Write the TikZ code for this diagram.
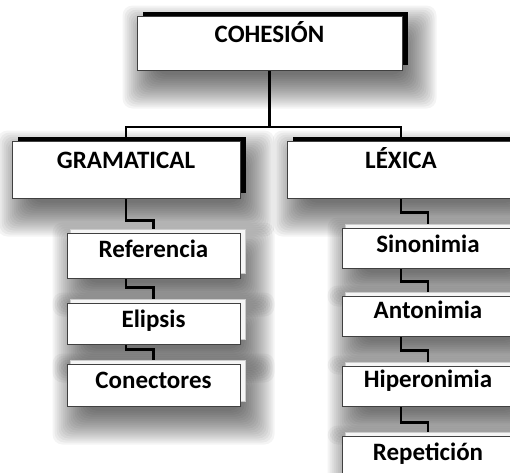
\documentclass[tikz,border=0pt]{standalone}
\usepackage{fontspec}
\setmainfont{Carlito}
\usetikzlibrary{calc}
\tikzset{
  boxbase/.style={draw=black!75, line width=1pt, fill=white, inner sep=0pt, align=center,
    font=\fontsize{25}{27}\selectfont\bfseries, text=black},
  topbox/.style={boxbase},
  leafbox/.style={boxbase, minimum width=173pt},
  shadlayer/.style={fill=black, fill opacity=0.045, rounded corners=10pt},
  blackghost/.style={fill=black},
  lightghost/.style={fill=black!4, draw=black!20, line width=0.6pt},
  conn/.style={draw=black, line width=2.8pt},
}
\newcommand\mysoftshadow[1]{%
  \foreach \e in {-10,-8,...,24}{
    \path[shadlayer] ($(#1.north west)+({10-(\e)},{14-(\e)})$) rectangle ($(#1.south east)+({10+(\e)},{14+(\e)})$);
  }}
\begin{document}
\begin{tikzpicture}[x=1pt,y=-1pt]
\useasboundingbox (0,0) rectangle (510,472);
\clip (0,0) rectangle (510,472);
% boxes (positions only, drawn later)
\path
 node[topbox, minimum width=265pt, text height=26pt, text depth=28pt, draw=none, fill=none, text opacity=0] (coh) at (269.5,43) {COHESIÓN}
 node[topbox, minimum width=228pt, text height=27pt, text depth=30pt, draw=none, fill=none, text opacity=0] (gram) at (126,169.5) {GRAMATICAL}
 node[topbox, minimum width=228pt, text height=27pt, text depth=30pt, draw=none, fill=none, text opacity=0] (lex) at (401,169.5) {LÉXICA}
 node[leafbox, text height=24pt, text depth=21pt, draw=none, fill=none, text opacity=0] (ref) at (153.5,255.5) {Referencia}
 node[leafbox, text height=24pt, text depth=17pt, draw=none, fill=none, text opacity=0] (eli) at (153.5,323.5) {Elipsis}
 node[leafbox, text height=24pt, text depth=18pt, draw=none, fill=none, text opacity=0] (con) at (153.5,385) {Conectores}
 node[leafbox, minimum width=172pt, text height=24pt, text depth=16pt, draw=none, fill=none, text opacity=0] (sin) at (428,248) {Sinonimia}
 node[leafbox, minimum width=172pt, text height=22pt, text depth=18pt, draw=none, fill=none, text opacity=0] (ant) at (428,316) {Antonimia}
 node[leafbox, minimum width=172pt, text height=21pt, text depth=19pt, draw=none, fill=none, text opacity=0] (hip) at (428,386) {Hiperonimia}
 node[leafbox, minimum width=172pt, text height=24pt, text depth=16pt, draw=none, fill=none, text opacity=0] (rep) at (428,456) {Repetición};
% soft shadows
\foreach \n in {coh,gram,lex,ref,eli,con,sin,ant,hip,rep}{
  \mysoftshadow{\n}
}
% connectors
\coordinate (bar) at (0,127);
\draw[conn] (coh.south) -- (coh.south |- bar);
\draw[conn] (gram.north) -- (gram.north |- bar) -- (lex.north |- bar) -- (lex.north);
\draw[conn] (gram.south) |- ($(ref.north)+(0,-12)$) -- (ref.north);
\draw[conn] (ref.south -| gram.south) |- ($(eli.north)+(0,-15)$) -- (eli.north);
\draw[conn] (eli.south -| gram.south) |- ($(con.north)+(0,-14)$) -- (con.north);
\draw[conn] (lex.south) |- ($(sin.north)+(0,-15)$) -- (sin.north);
\draw[conn] (sin.south -| lex.south) |- ($(ant.north)+(0,-14)$) -- (ant.north);
\draw[conn] (ant.south -| lex.south) |- ($(hip.north)+(0,-15)$) -- (hip.north);
\draw[conn] (hip.south -| lex.south) |- ($(rep.north)+(0,-13)$) -- (rep.north);
% ghost rectangles
\foreach \n in {coh,gram,lex}{
  \path[blackghost] ($(\n.north west)+(6,-4)$) rectangle ($(\n.south east)+(5,-6)$);
}
\foreach \n in {ref,eli,con,sin,ant,hip,rep}{
  \path[lightghost] ($(\n.north west)+(4,-3)$) rectangle ($(\n.south east)+(5,-5)$);
}
% visible boxes
\node[topbox, minimum width=265pt, text height=26pt, text depth=28pt] (cohB) at (coh) {COHESIÓN};
\node[topbox, minimum width=228pt, text height=27pt, text depth=30pt] (gramB) at (gram) {GRAMATICAL};
\node[topbox, minimum width=228pt, text height=27pt, text depth=30pt] (lexB) at (lex) {LÉXICA};
\node[leafbox, text height=24pt, text depth=21pt] (refB) at (ref) {Referencia};
\node[leafbox, text height=24pt, text depth=17pt] (eliB) at (eli) {Elipsis};
\node[leafbox, text height=24pt, text depth=18pt] (conB) at (con) {Conectores};
\node[leafbox, minimum width=172pt, text height=24pt, text depth=16pt] (sinB) at (sin) {Sinonimia};
\node[leafbox, minimum width=172pt, text height=22pt, text depth=18pt] (antB) at (ant) {Antonimia};
\node[leafbox, minimum width=172pt, text height=21pt, text depth=19pt] (hipB) at (hip) {Hiperonimia};
\node[leafbox, minimum width=172pt, text height=24pt, text depth=16pt] (repB) at (rep) {Repetición};
\end{tikzpicture}
\end{document}
